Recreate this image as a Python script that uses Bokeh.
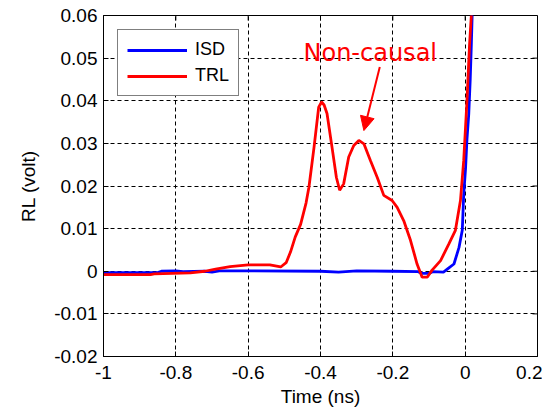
from bokeh.plotting import figure
from bokeh.models import (ColumnDataSource, FixedTicker, Legend, LegendItem,
                          Label, Arrow, NormalHead, Range1d)
from bokeh.embed import file_html
from bokeh.resources import INLINE

# ---------------- data ----------------
trl_t = [-1.0, -0.87, -0.86, -0.76, -0.72, -0.69, -0.65, -0.60, -0.54, -0.51, -0.495,
         -0.483, -0.47, -0.455, -0.44, -0.432, -0.418, -0.405, -0.397, -0.39, -0.382,
         -0.368, -0.356, -0.347, -0.336, -0.322, -0.308, -0.294, -0.280, -0.262, -0.243,
         -0.225, -0.202, -0.188, -0.170, -0.151, -0.133, -0.119, -0.105, -0.092, -0.068,
         -0.045, -0.027, -0.013, -0.004, 0.005, 0.012, 0.017, 0.022]
trl_v = [-0.0008, -0.0008, -0.0006, -0.0004, 0.0, 0.0005, 0.0011, 0.0015, 0.0015, 0.0010, 0.0020,
         0.0045, 0.0080, 0.0110, 0.0160, 0.0197, 0.0290, 0.0385, 0.0397, 0.0390, 0.0370,
         0.0290, 0.0220, 0.0190, 0.0205, 0.0268, 0.0295, 0.0307, 0.0299, 0.0260, 0.0220,
         0.0178, 0.0166, 0.0150, 0.0119, 0.0072, 0.0017, -0.0014, -0.0014, 0.0002, 0.0025,
         0.0064, 0.0096, 0.0166, 0.0260, 0.0400, 0.0530, 0.0600, 0.0700]

isd_t = [-1.0, -0.85, -0.84, -0.80, -0.78, -0.72, -0.70, -0.68, -0.60, -0.40, -0.35, -0.30,
         -0.20, -0.13, -0.12, -0.10, -0.09, -0.06, -0.045, -0.031, -0.017, -0.008, -0.004,
         0.001, 0.005, 0.010, 0.014, 0.017, 0.021]
isd_v = [-0.0003, -0.0003, 0.0, 0.0001, -0.0001, 0.0, -0.0002, 0.0001, 0.0001, 0.0, -0.0002, 0.0001,
         0.0, -0.0001, -0.0005, -0.0005, -0.0001, -0.0002, 0.0008, 0.0017, 0.0056, 0.0096, 0.018,
         0.024, 0.031, 0.037, 0.045, 0.053, 0.065]

x_ticks = [-1.0, -0.8, -0.6, -0.4, -0.2, 0.0, 0.2]
x_tick_labels = ["-1", "-0.8", "-0.6", "-0.4", "-0.2", "0", "0.2"]
y_ticks = [-0.02, -0.01, 0.0, 0.01, 0.02, 0.03, 0.04, 0.05, 0.06]
y_tick_labels = ["-0.02", "-0.01", "0", "0.01", "0.02", "0.03", "0.04", "0.05", "0.06"]

series_names = ["ISD", "TRL"]
annotation_text = "Non-causal"
annot_pos = (-0.447, 0.0513)
arrow_start = (-0.236, 0.0479)
arrow_end = (-0.280, 0.0330)

FONT = "Liberation Sans"
X0, X1 = x_ticks[0], x_ticks[-1]
Y0, Y1 = y_ticks[0], y_ticks[-1]

p = figure(width=542, height=412, output_backend="svg", toolbar_location=None,
           x_range=Range1d(X0, X1), y_range=Range1d(Y0, Y1),
           min_border_left=103, min_border_right=5, min_border_top=15, min_border_bottom=56,
           background_fill_color="white", border_fill_color="white")

p.outline_line_color = "black"
p.outline_line_width = 1

for ax, ticks, labels in ((p.xaxis[0], x_ticks, x_tick_labels), (p.yaxis[0], y_ticks, y_tick_labels)):
    ax.ticker = FixedTicker(ticks=ticks)
    ax.major_label_overrides = {t: l for t, l in zip(ticks, labels)}
    ax.major_tick_in = 5
    ax.major_tick_out = 0
    ax.minor_tick_line_color = None
    ax.axis_line_color = "black"
    ax.major_tick_line_color = "black"
    ax.major_label_text_font = FONT
    ax.major_label_text_font_size = "19px"
    ax.major_label_text_color = "black"
    ax.axis_label_text_font = FONT
    ax.axis_label_text_font_size = "19px"
    ax.axis_label_text_font_style = "normal"
    ax.axis_label_text_color = "black"

p.xaxis[0].axis_label = "Time (ns)"
p.yaxis[0].axis_label = "RL (volt)"
p.xaxis[0].major_label_standoff = 9
p.yaxis[0].major_label_standoff = 6
p.xaxis[0].axis_label_standoff = 4
p.yaxis[0].axis_label_standoff = 12

p.grid.grid_line_color = "black"
p.grid.grid_line_dash = "4 3"
p.grid.grid_line_width = 1
p.xgrid.ticker = FixedTicker(ticks=x_ticks)
p.ygrid.ticker = FixedTicker(ticks=y_ticks)

# inward box ticks on the top and right edges (MATLAB "box on" style)
tick_dy = (Y1 - Y0) * 5.0 / 341.0
tick_dx = (X1 - X0) * 5.0 / 434.0
p.segment(x0=x_ticks, y0=[Y1] * len(x_ticks), x1=x_ticks, y1=[Y1 - tick_dy] * len(x_ticks),
          line_color="black", line_width=1)
p.segment(x0=[X1] * len(y_ticks), y0=y_ticks, x1=[X1 - tick_dx] * len(y_ticks), y1=y_ticks,
          line_color="black", line_width=1)

src_isd = ColumnDataSource(dict(t=isd_t, v=isd_v))
src_trl = ColumnDataSource(dict(t=trl_t, v=trl_v))
r_isd = p.line("t", "v", source=src_isd, line_color="#0000ff", line_width=2.8)
r_trl = p.line("t", "v", source=src_trl, line_color="#ff0000", line_width=2.8)

legend = Legend(items=[LegendItem(label=series_names[0], renderers=[r_isd]),
                       LegendItem(label=series_names[1], renderers=[r_trl])],
                location="top_left", margin=14, padding=9, spacing=5,
                glyph_width=60, glyph_height=20, label_height=20, label_standoff=8,
                label_text_font=FONT, label_text_font_size="18px", label_text_color="black",
                border_line_color="black", border_line_width=1, background_fill_alpha=1.0)
p.add_layout(legend, "center")

p.add_layout(Label(x=annot_pos[0], y=annot_pos[1], text=annotation_text,
                   text_font="DejaVu Sans", text_font_size="24px", text_color="#ff0000",
                   text_baseline="alphabetic"))
p.add_layout(Arrow(x_start=arrow_start[0], y_start=arrow_start[1],
                   x_end=arrow_end[0], y_end=arrow_end[1],
                   line_color="#ff0000", line_width=2,
                   end=NormalHead(size=14, fill_color="#ff0000", line_color="#ff0000")))

open("out.html", "w").write(file_html(p, INLINE))
